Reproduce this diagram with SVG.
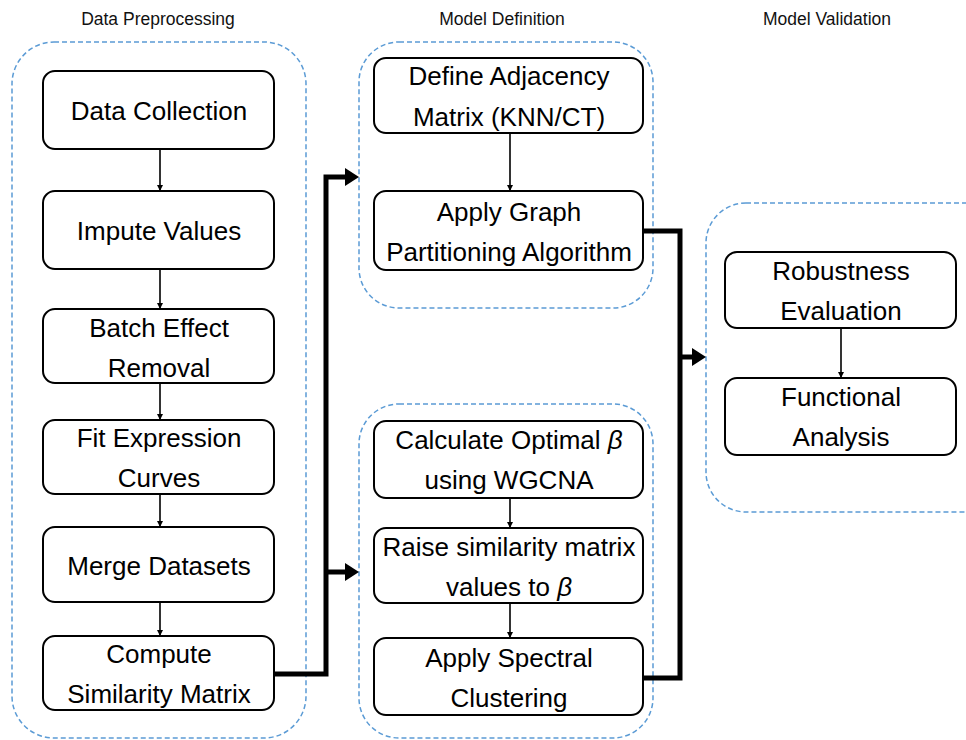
<svg xmlns="http://www.w3.org/2000/svg" width="966" height="740" viewBox="0 0 966 740">
<defs>
<style>
.grp{fill:none;stroke:#5B9BD5;stroke-width:1.5;stroke-dasharray:5 3}
.box{fill:#fff;stroke:#000;stroke-width:2}
.t{font-family:"Liberation Sans",Arial,sans-serif;font-size:26px;fill:#000;text-anchor:middle}
.h{font-family:"Liberation Sans",Arial,sans-serif;font-size:17.5px;fill:#111;text-anchor:middle}
.thin{fill:none;stroke:#000;stroke-width:1.6;marker-end:url(#sa)}
.thick{fill:none;stroke:#000;stroke-width:5}
</style>
<marker id="sa" viewBox="0 0 10 10" refX="10" refY="5" markerWidth="6" markerHeight="6" markerUnits="userSpaceOnUse" orient="auto"><path d="M0,0 L10,5 L0,10 z" fill="#000"/></marker>
</defs>
<rect width="966" height="740" fill="#fff"/>
<text class="h" x="158" y="25">Data Preprocessing</text>
<text class="h" x="502" y="25">Model Definition</text>
<text class="h" x="827" y="25">Model Validation</text>
<g id="containers">
<rect class="grp" x="12" y="42" width="294" height="696" rx="42"/>
<rect class="grp" x="359" y="42" width="294" height="266" rx="40"/>
<rect class="grp" x="359" y="404" width="294" height="334" rx="40"/>
<rect class="grp" x="706" y="203" width="300" height="309" rx="40"/>
</g>
<g id="connectors">
<path class="thin" d="M160,149 V191"/>
<path class="thin" d="M160,269 V309"/>
<path class="thin" d="M160,383 V420"/>
<path class="thin" d="M160,494 V527"/>
<path class="thin" d="M160,602 V636"/>
<path class="thin" d="M510,133 V191"/>
<path class="thin" d="M510,498 V528"/>
<path class="thin" d="M510,603 V638"/>
<path class="thin" d="M841,328 V378"/>
<path class="thick" d="M274,674 H326 V177 H346"/>
<path class="thick" d="M326,572 H346"/>
<polygon points="345,168 359,177 345,186"/>
<polygon points="345,563 359,572 345,581"/>
<path class="thick" d="M643,231 H680 V678 H643"/>
<path class="thick" d="M680,357 H693"/>
<polygon points="692,348 706,357 692,366"/>
</g>
<g id="n1"><rect class="box" x="43" y="71" width="231" height="78" rx="12"/><text class="t" x="159" y="120">Data Collection</text></g>
<g id="n2"><rect class="box" x="43" y="191" width="231" height="78" rx="12"/><text class="t" x="159" y="240">Impute Values</text></g>
<g id="n3"><rect class="box" x="43" y="309" width="231" height="74" rx="12"/><text class="t" x="159" y="337">Batch Effect</text><text class="t" x="159" y="377">Removal</text></g>
<g id="n4"><rect class="box" x="43" y="420" width="231" height="74" rx="12"/><text class="t" x="159" y="447">Fit Expression</text><text class="t" x="159" y="487">Curves</text></g>
<g id="n5"><rect class="box" x="43" y="527" width="231" height="75" rx="12"/><text class="t" x="159" y="575">Merge Datasets</text></g>
<g id="n6"><rect class="box" x="43" y="636" width="231" height="74" rx="12"/><text class="t" x="159" y="663">Compute</text><text class="t" x="159" y="703">Similarity Matrix</text></g>
<g id="n7"><rect class="box" x="374" y="58" width="269" height="75" rx="12"/><text class="t" x="509" y="85">Define Adjacency</text><text class="t" x="509" y="126">Matrix (KNN/CT)</text></g>
<g id="n8"><rect class="box" x="374" y="191" width="269" height="79" rx="12"/><text class="t" x="509" y="221">Apply Graph</text><text class="t" x="509" y="261">Partitioning Algorithm</text></g>
<g id="n9"><rect class="box" x="374" y="421" width="269" height="77" rx="12"/><text class="t" x="509" y="449">Calculate Optimal <tspan font-style="italic">β</tspan></text><text class="t" x="509" y="489">using WGCNA</text></g>
<g id="n10"><rect class="box" x="374" y="528" width="269" height="75" rx="12"/><text class="t" x="509" y="556">Raise similarity matrix</text><text class="t" x="509" y="596">values to <tspan font-style="italic">β</tspan></text></g>
<g id="n11"><rect class="box" x="374" y="638" width="269" height="77" rx="12"/><text class="t" x="509" y="667">Apply Spectral</text><text class="t" x="509" y="707">Clustering</text></g>
<g id="n12"><rect class="box" x="725" y="252" width="231" height="76" rx="12"/><text class="t" x="841" y="280">Robustness</text><text class="t" x="841" y="320">Evaluation</text></g>
<g id="n13"><rect class="box" x="725" y="378" width="231" height="77" rx="12"/><text class="t" x="841" y="406">Functional</text><text class="t" x="841" y="446">Analysis</text></g>
</svg>
